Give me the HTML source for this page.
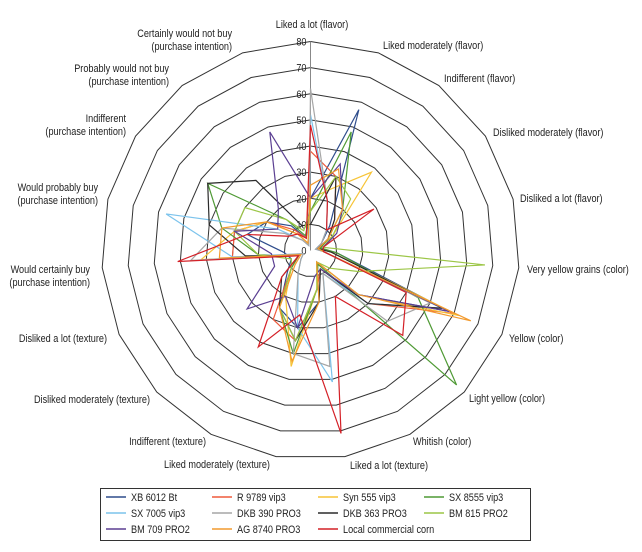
<!DOCTYPE html>
<html><head><meta charset="utf-8"><style>
body{margin:0;background:#fff;width:642px;height:547px;overflow:hidden;font-family:"Liberation Sans",sans-serif}
svg text{font-family:"Liberation Sans",sans-serif;font-size:11px;fill:#222}
</style></head><body>
<svg id="chart" width="642" height="547">
<g id="grid"></g><g id="ticks"></g><g id="series"></g><g id="labels"></g><g id="legend"></g>
</svg>
<script>
const categories=["Liked a lot (flavor)","Liked moderately (flavor)","Indifferent (flavor)","Disliked moderately (flavor)","Disliked a lot (flavor)","Very yellow grains (color)","Yellow (color)","Light yellow (color)","Whitish (color)","Liked a lot (texture)","Liked moderately (texture)","Indifferent (texture)","Disliked moderately (texture)","Disliked a lot (texture)","Would certainly buy|(purchase intention)","Would probably buy|(purchase intention)","Indifferent|(purchase intention)","Probably would not buy|(purchase intention)","Certainly would not buy|(purchase intention)"];
const tickValues=[0,10,20,30,40,50,60,70,80];
const seriesNames=["XB 6012 Bt","R 9789 vip3","Syn 555 vip3","SX 8555 vip3","SX 7005 vip3","DKB 390 PRO3","DKB 363 PRO3","BM 815 PRO2","BM 709 PRO2","AG 8740 PRO3","Local commercial corn"];
const seriesColors=["#2f4d8c","#ef5a3c","#f7c437","#4f9a35","#7cc3ec","#a6a6a6","#2b2b2b","#9cc646","#5b3f92","#f29a2e","#d42027"];
const xb6012=[20,57,12,5,3,10,58,25,5,20,30,25,12,8,10,25,20,12,5];
const r9789=[38,30,15,8,3,5,60,30,8,15,35,30,10,5,30,30,20,10,5];
const syn555=[20,25,38,10,3,8,62,25,5,15,45,20,10,5,42,30,20,8,3];
const sx8555=[15,48,20,8,4,10,45,76,6,15,40,25,10,5,20,35,47,15,6];
const sx7005=[52,20,10,5,2,5,55,30,10,51,30,10,5,3,30,57,15,5,2];
const dkb390=[62,20,10,5,2,5,50,40,10,45,40,10,5,3,46,35,12,5,2];
const dkb363=[10,30,15,8,3,8,55,30,8,20,35,25,15,5,25,40,47,34,10];
const bm815=[15,30,25,10,5,67,20,10,5,15,35,25,10,8,20,30,30,15,8];
const bm709=[20,35,20,12,5,5,58,25,8,10,30,20,33,15,15,30,15,20,48];
const ag8740=[25,33,20,8,3,5,67,25,5,20,43,25,8,4,35,35,20,8,3];
const localCorn=[48,20,10,29,5,5,40,48,20,71,25,42,15,5,51,25,10,8,5];
const seriesValues=[xb6012,r9789,syn555,sx8555,sx7005,dkb390,dkb363,bm815,bm709,ag8740,localCorn];

const NS="http://www.w3.org/2000/svg";
const cx=310.5,cy=250.5,R=209,maxV=80,N=categories.length,SX=0.83;
function rScale(v){return v/maxV*R;}
function pt(i,v){const a=i*2*Math.PI/N;return [cx+rScale(v)*Math.sin(a),cy-rScale(v)*Math.cos(a)];}
function mk(tag,attrs,parent){const e=document.createElementNS(NS,tag);for(const k in attrs)e.setAttribute(k,attrs[k]);parent.appendChild(e);return e;}

const grid=document.getElementById('grid');
tickValues.slice(1).forEach(t=>{
  const pts=categories.map((c,i)=>pt(i,t).join(',')).join(' ');
  const p=mk('polygon',{points:pts,fill:'none',stroke:'#333','stroke-width':1},grid);
  
  
});
const ax=mk('line',{x1:cx,y1:cy,x2:cx,y2:cy-R,stroke:'#888','stroke-width':1},grid);



const ticks=document.getElementById('ticks');
tickValues.forEach(t=>{
  const e=mk('text',{x:0,y:0,'text-anchor':'end',transform:'translate('+(cx-4)+','+(cy-rScale(t)+4)+') scale('+SX+',1)'},ticks);
  e.textContent=t;
  
  
});

const sg=document.getElementById('series');
seriesValues.forEach((vals,s)=>{
  const pts=vals.map((v,i)=>pt(i,v).join(',')).join(' ');
  const p=mk('polygon',{points:pts,fill:'none',stroke:seriesColors[s],'stroke-width':1.2},sg);
  
  
});

const labelPos=[[312,28,'middle'],[383,49,'start'],[444,82,'start'],[493,136,'start'],[520,202,'start'],[527,273,'start'],[509,342,'start'],[469,402,'start'],[413,445,'start'],[389,469,'middle'],[217,468,'middle'],[206,445,'end'],[150,403,'end'],[107,342,'end'],[90,273,'end'],[98,191,'end'],[126,122,'end'],[169,72,'end'],[232,37,'end']];
const lg=document.getElementById('labels');
categories.forEach((c,i)=>{
  const [x,y,anc]=labelPos[i];
  const e=mk('text',{x:0,y:0,'text-anchor':anc,transform:'translate('+x+','+y+') scale('+SX+',1)'},lg);
  c.split('|').forEach((line,k)=>{const ts=mk('tspan',{x:0,dy:k?13:0},e);ts.textContent=line;});
  
  
});

const leg=document.getElementById('legend');
const box=mk('rect',{x:100.5,y:488.5,width:430,height:52,fill:'#fff',stroke:'#333','stroke-width':1},leg);


const colX=[106,212,318,424];
seriesNames.forEach((n,s)=>{
  const col=s%4,row=Math.floor(s/4);
  const x=colX[col],y=501+row*16;
  const g=mk('g',{},leg);
  
  
  mk('line',{x1:x,y1:y-4,x2:x+20,y2:y-4,stroke:seriesColors[s],'stroke-width':1.5},g);
  const t=mk('text',{x:0,y:0,transform:'translate('+(x+25)+','+y+') scale('+SX+',1)'},g);t.textContent=n;
});
</script>
</body></html>
